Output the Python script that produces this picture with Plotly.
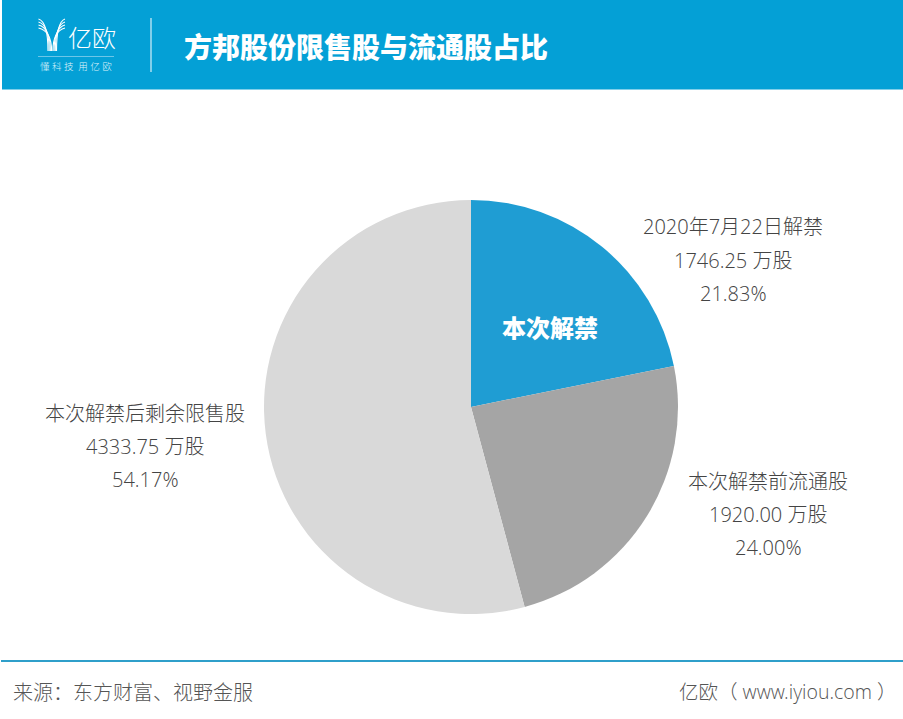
import plotly.graph_objects as go

W, H = 903, 719
CJK = "Open Sans Light, Open Sans, Noto Sans CJK SC Light, Noto Sans CJK SC"
BOLD = "Noto Sans CJK SC Black, Noto Sans CJK SC"
categories = ["2020年7月22日解禁", "本次解禁前流通股", "本次解禁后剩余限售股"]
shares = [1746.25, 1920.00, 4333.75]
amount_text = ["1746.25 万股", "1920.00 万股", "4333.75 万股"]
percent_text = ["21.83%", "24.00%", "54.17%"]
colors = ["#1f9dd3", "#a5a5a5", "#d9d9d9"]
label_centers = [(733, 227), (768, 481), (145, 413)]
title = "方邦股份限售股与流通股占比"


def px(x):
    return x / W


def py(y):
    return 1 - y / H


fig = go.Figure(go.Pie(
    labels=categories, values=shares, sort=False, direction="clockwise", rotation=0,
    marker=dict(colors=colors, line=dict(width=0)), textinfo="none", hoverinfo="label+value+percent",
    showlegend=False, domain=dict(x=[px(264), px(678)], y=[py(614), py(200)]),
))

shapes = [
    dict(type="rect", xref="paper", yref="paper", x0=px(2), x1=1, y0=py(89.5), y1=1,
         fillcolor="#04a0d6", line_width=0, layer="below"),
    dict(type="line", xref="paper", yref="paper", x0=px(151), x1=px(151), y0=py(72), y1=py(18),
         line=dict(color="#d5eef8", width=1.2)),
    dict(type="line", xref="paper", yref="paper", x0=px(38), x1=px(114), y0=py(56.5), y1=py(56.5),
         line=dict(color="#6cc6e8", width=1)),
    dict(type="line", xref="paper", yref="paper", x0=px(1), x1=1, y0=py(661), y1=py(661),
         line=dict(color="#2f9fca", width=2)),
]
# simplified logo strokes
for i in range(4):
    y0 = 19 + 3 * i
    for x0, x1 in ((38.5, 48 + 1.2 * i), (65, 56.5 - 1.2 * i)):
        shapes.append(dict(type="path", xref="paper", yref="paper",
                           path=f"M {px(x0)} {py(y0)} Q {px(x1)} {py(y0 + 3)} {px(x1)} {py(51)}",
                           line=dict(color="white", width=1.1)))


def text(x, y, s, size, color, anchor="center", family=CJK, **kw):
    return dict(xref="paper", yref="paper", x=px(x), y=py(y), text=s, showarrow=False, xanchor=anchor,
                yanchor="middle", font=dict(family=family, size=size, color=color), **kw)


annotations = [
    text(182, 46, f"<b>{title}</b>", 28, "white", "left", BOLD),
    text(66, 38, "亿", 24, "white", "left"),
    text(90, 38, "欧", 24, "white", "left"),
    text(76, 67, "懂 科 技  用 亿 欧", 9.5, "#dff3fb"),
    text(550, 326, "<b>本次解禁</b>", 24, "white", "center", BOLD),
    text(11, 692, "来源：东方财富、视野金服", 20, "#555555", "left"),
    text(677, 691, "亿欧（ www.iyiou.com ）", 19.5, "#555555", "left"),
]
for (cx, cy), name, amount, pct in zip(label_centers, categories, amount_text, percent_text):
    annotations.append(text(cx, cy, name, 20, "#444444"))
    annotations.append(text(cx, cy + 33, amount, 20, "#444444"))
    annotations.append(text(cx, cy + 66, pct, 20, "#444444"))

fig.update_layout(width=W, height=H, margin=dict(l=0, r=0, t=0, b=0), paper_bgcolor="white",
                  shapes=shapes, annotations=annotations)
fig.write_html("out.html", config={"displayModeBar": False},
               post_script="document.body.style.margin='0';document.body.style.overflow='hidden';")
